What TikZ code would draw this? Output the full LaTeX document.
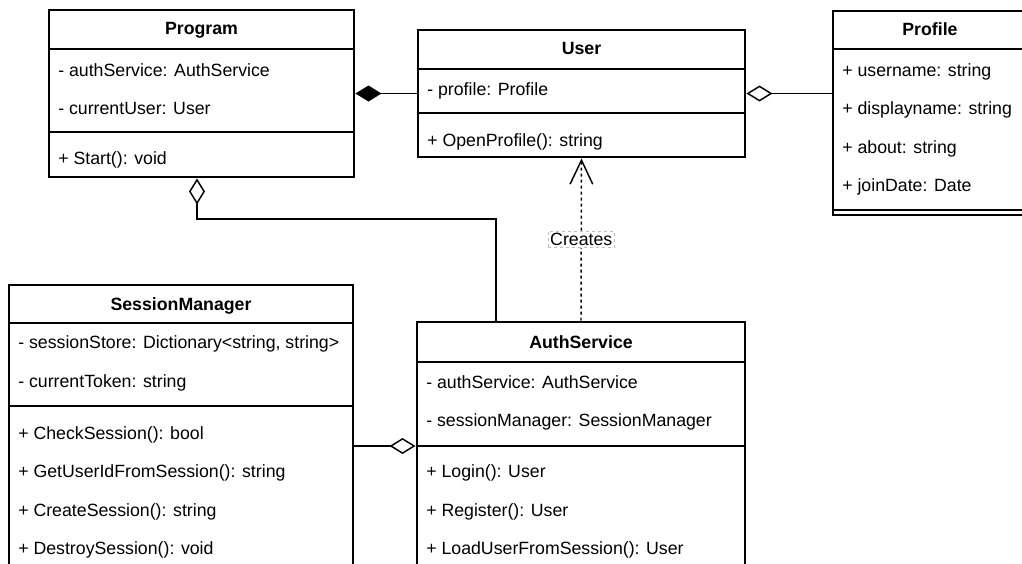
\documentclass[tikz,border=0pt]{standalone}
\usepackage{fontspec}
\setmainfont{Liberation Sans}
\usetikzlibrary{arrows.meta,fit}
\begin{document}
\begin{tikzpicture}[x=0.75pt,y=-0.75pt,
  classbox/.style={draw, line width=2.2pt, inner sep=0pt},
  headsep/.style={line width=2.2pt},
  compsep/.style={line width=1.1pt},
  member/.style={anchor=base west, inner sep=0pt, font=\fontsize{13.3}{16}\selectfont},
  classname/.style={anchor=base, inner sep=0pt, font=\fontsize{13.3}{16}\selectfont\bfseries},
  link/.style={line width=1.1pt},
  composition/.style={link, {Diamond[length=19.5pt,width=12pt]}-},
  aggregation/.style={link, {Diamond[fill=white,length=19.5pt,width=12pt]}-},
  dependency/.style={link, dash pattern=on 2.25pt off 2.25pt, -{Straight Barb[length=18pt,width=17pt]}},
  tag/.style={fill=white, draw=black!25, line width=0.5pt, inner sep=1.5pt, font=\fontsize{13.3}{16}\selectfont}
]
\useasboundingbox (0,0) rectangle (1022,564);
\clip (0,0) rectangle (1022,564);

% class boxes
\node[classbox, fit={(49,10)(354,177)}] (program) {};
\node[classbox, fit={(418,30)(745,157)}] (user) {};
\node[classbox, fit={(833,11)(1040,215)}] (profile) {};
\node[classbox, fit={(9,285)(353,600)}] (sm) {};
\node[classbox, fit={(417,322)(745,570)}] (auth) {};

% compartment separators
\draw[headsep] (program.west |- 0,49) -- (program.east |- 0,49);
\draw[compsep] (program.west |- 0,132) -- (program.east |- 0,132);
\draw[headsep] (user.west |- 0,69) -- (user.east |- 0,69);
\draw[compsep] (user.west |- 0,113) -- (user.east |- 0,113);
\draw[headsep] (profile.west |- 0,49) -- (profile.east |- 0,49);
\draw[compsep] (profile.west |- 0,210) -- (profile.east |- 0,210);
\draw[headsep] (sm.west |- 0,323) -- (sm.east |- 0,323);
\draw[compsep] (sm.west |- 0,406) -- (sm.east |- 0,406);
\draw[headsep] (auth.west |- 0,362) -- (auth.east |- 0,362);
\draw[compsep] (auth.west |- 0,446) -- (auth.east |- 0,446);

% Program
\node[classname] (programT) at (201.5,35) {Program};
\node[member] (programA1) at (58,76) {- authService: AuthService};
\node[member] (programA2) at (58,114) {- currentUser: User};
\node[member] (programM1) at (58,164) {+ Start(): void};

% User
\node[classname] (userT) at (581.5,55) {User};
\node[member] (userA1) at (427,95) {- profile: Profile};
\node[member] (userM1) at (427,146) {+ OpenProfile(): string};

% Profile
\node[classname] (profileT) at (930,36) {Profile};
\node[member] (profileA1) at (842,76) {+ username: string};
\node[member] (profileA2) at (842,114) {+ displayname: string};
\node[member] (profileA3) at (842,153) {+ about: string};
\node[member] (profileA4) at (842,191) {+ joinDate: Date};

% SessionManager
\node[classname] (smT) at (181,310) {SessionManager};
\node[member] (smA1) at (18,348) {- sessionStore: Dictionary<string, string>};
\node[member] (smA2) at (18,387) {- currentToken: string};
\node[member] (smM1) at (18,439) {+ CheckSession(): bool};
\node[member] (smM2) at (18,477) {+ GetUserIdFromSession(): string};
\node[member] (smM3) at (18,516) {+ CreateSession(): string};
\node[member] (smM4) at (18,554) {+ DestroySession(): void};

% AuthService
\node[classname] (authT) at (581,348) {AuthService};
\node[member] (authA1) at (426,388) {- authService: AuthService};
\node[member] (authA2) at (426,426) {- sessionManager: SessionManager};
\node[member] (authM1) at (426,477) {+ Login(): User};
\node[member] (authM2) at (426,516) {+ Register(): User};
\node[member] (authM3) at (426,554) {+ LoadUserFromSession(): User};

% relations
\draw[composition] (program.east) -- (user.west);
\draw[aggregation] (user.east) -- (user.east -| profile.west);
\draw[aggregation] (auth.west) -- (auth.west -| sm.east);
\coordinate (pbend) at (197,219);
\coordinate (abend) at (496,219);
\draw[aggregation] (pbend |- program.south) -- (pbend) -- (abend) -- (abend |- auth.north);
\draw[dependency] (auth.north) -- node[tag] (creates) {Creates} (user.south);
\end{tikzpicture}
\end{document}
